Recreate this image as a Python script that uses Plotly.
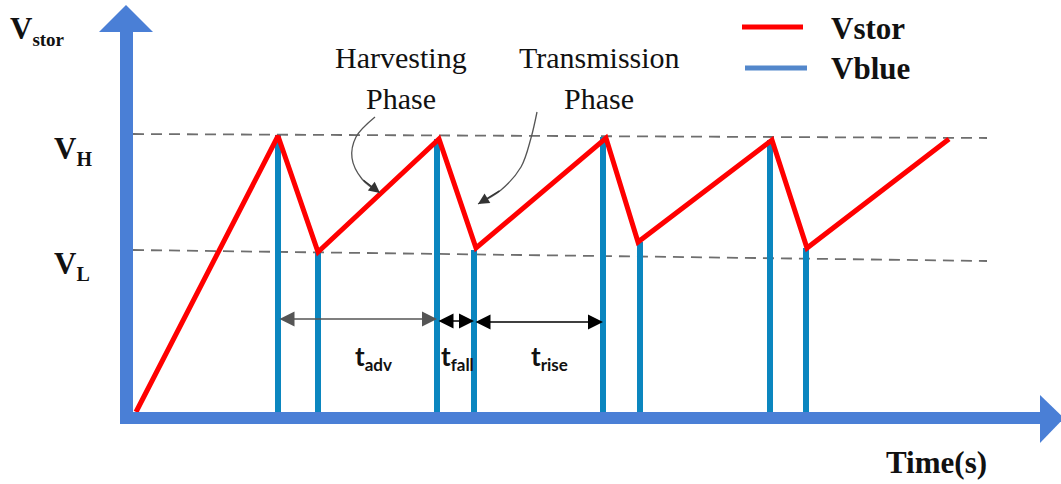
import plotly.graph_objects as go

W, H = 1061, 484
# origin of the drawing (pixel position of t=0, V=0)
OX, OY = 136, 412

# ---------------- data (time units, voltage units) ----------------
vstor_t = [0, 142, 182, 303, 340, 470, 502, 636, 671, 813]
vstor_v = [0, 276, 160, 273, 164, 274, 170, 272, 164, 273]

pulse_t = [142, 182, 301, 338, 467, 504, 634, 670]
pulse_top = [277, 160, 273, 162, 275, 170, 272, 164]

vh_t = [-3, 851]
vh_v = [278, 274]
vl_t = [-3, 851]
vl_v = [162, 151]

interval_labels = ["adv", "fall", "rise"]
interval_edges = [(0, 2), (2, 3), (3, 4)]   # indices into pulse_t
interval_v = [93, 91, 90]

RED = "#FF0000"
PULSE = "#0B86BF"
AXIS = "#4A7FD6"
LEG_BLUE = "#5387CB"
GRAY = "#6E6E6E"

SERIF = "Liberation Serif"
SANS = "Lato"


def P(x, y):
    """pixel -> data coordinates (for decorations)"""
    return x - OX, OY - y


fig = go.Figure()

# dashed reference levels
for tt, vv in ((vh_t, vh_v), (vl_t, vl_v)):
    fig.add_trace(go.Scatter(x=tt, y=vv, mode="lines",
                             line=dict(color=GRAY, width=1.8, dash="11px,7px"),
                             hoverinfo="skip", showlegend=False))

# Vblue pulses
bx, by = [], []
for t, h in zip(pulse_t, pulse_top):
    bx += [t, t, None]
    by += [0, h, None]
fig.add_trace(go.Scatter(x=bx, y=by, mode="lines", name="Vblue",
                         line=dict(color=PULSE, width=6), showlegend=False))

# Vstor
fig.add_trace(go.Scatter(x=vstor_t, y=vstor_v, mode="lines", name="Vstor",
                         line=dict(color=RED, width=5), showlegend=False))

# curved pointer arrows
harv = [P(375, 117), P(356, 137), P(352, 158), P(362, 179), P(380, 193)]
trans = [P(537, 112), P(531, 138), P(521, 167), P(501, 190), P(478, 204)]
for pts in (harv, trans):
    fig.add_trace(go.Scatter(x=[p[0] for p in pts], y=[p[1] for p in pts],
                             mode="lines", line=dict(color="#555555", width=1.3, shape="spline"),
                             hoverinfo="skip", showlegend=False))

shapes = []
# y axis arrow
x0, y0 = P(120, 424)
x1, y1 = P(133, 31)
shapes.append(dict(type="rect", xref="x", yref="y", x0=x0, y0=y0, x1=x1, y1=y1,
                   fillcolor=AXIS, line=dict(width=0)))
a, b, c = P(99, 32), P(153, 32), P(126, 5)
shapes.append(dict(type="path", xref="x", yref="y",
                   path=f"M {a[0]},{a[1]} L {b[0]},{b[1]} L {c[0]},{c[1]} Z",
                   fillcolor=AXIS, line=dict(width=0)))
# x axis arrow
x0, y0 = P(120, 412)
x1, y1 = P(1041, 424)
shapes.append(dict(type="rect", xref="x", yref="y", x0=x0, y0=y0, x1=x1, y1=y1,
                   fillcolor=AXIS, line=dict(width=0)))
a, b, c = P(1040, 395), P(1040, 443), P(1064, 418)
shapes.append(dict(type="path", xref="x", yref="y",
                   path=f"M {a[0]},{a[1]} L {b[0]},{b[1]} L {c[0]},{c[1]} Z",
                   fillcolor=AXIS, line=dict(width=0)))

# legend lines
shapes.append(dict(type="line", xref="x", yref="y", x0=P(742, 27)[0], y0=P(742, 27)[1],
                   x1=P(803, 27)[0], y1=P(803, 27)[1], line=dict(color=RED, width=5)))
shapes.append(dict(type="line", xref="x", yref="y", x0=P(745, 68)[0], y0=P(745, 68)[1],
                   x1=P(807, 68)[0], y1=P(807, 68)[1], line=dict(color=LEG_BLUE, width=5)))

ann = []


def text(px, py, s, size, family=SERIF, xanchor="center", color="#111111"):
    x, y = P(px, py)
    ann.append(dict(x=x, y=y, xref="x", yref="y", text=s, showarrow=False,
                    xanchor=xanchor, yanchor="middle",
                    font=dict(family=family, size=size, color=color)))


text(8, 30, "<b>V<sub><span style='font-size:19px'>stor</span></sub></b>", 31, xanchor="left")
text(52, 150, "<b>V<sub><span style='font-size:20px'>H</span></sub></b>", 31, xanchor="left")
text(52, 265, "<b>V<sub><span style='font-size:20px'>L</span></sub></b>", 31, xanchor="left")
text(401, 57, "Harvesting", 30)
text(401, 98, "Phase", 30)
text(599, 57, "Transmission", 30)
text(599, 98, "Phase", 30)
text(829, 28, "<b>Vstor</b>", 31, xanchor="left")
text(829, 68, "<b>Vblue</b>", 31, xanchor="left")
text(936, 462, "<b>Time(s)</b>", 31)

# arrowheads of the curved pointers
for pts in (harv, trans):
    ann.append(dict(x=pts[-1][0], y=pts[-1][1], ax=pts[-2][0], ay=pts[-2][1],
                    xref="x", yref="y", axref="x", ayref="y", text="",
                    showarrow=True, arrowhead=2, arrowsize=1.7, arrowwidth=1.3,
                    arrowcolor="#333333"))

# interval double arrows + labels
label_px = [373, 457, 549]
for (i0, i1), lab, v, lx in zip(interval_edges, interval_labels, interval_v, label_px):
    ta = pulse_t[i0]
    tb = pulse_t[i1]
    col = "#555555" if lab == "adv" else "#000000"
    ann.append(dict(x=tb, y=v, ax=ta, ay=v, xref="x", yref="y", axref="x", ayref="y",
                    text="", showarrow=True, arrowhead=2, startarrowhead=2,
                    arrowside="end+start", arrowsize=2.0, startarrowsize=2.0,
                    arrowwidth=1.5, arrowcolor=col))
    text(lx, 357, f"<b>t<sub><span style='font-size:17px'>{lab}</span></sub></b>", 26, family=SANS)

fig.update_layout(
    width=W, height=H, margin=dict(l=0, r=0, t=0, b=0),
    paper_bgcolor="white", plot_bgcolor="white",
    xaxis=dict(range=[-OX, W - OX], visible=False, fixedrange=True),
    yaxis=dict(range=[OY - H, OY], visible=False, fixedrange=True),
    shapes=shapes, annotations=ann, showlegend=False,
)
fig.write_html("out.html", config={"displayModeBar": False},
               post_script="document.body.style.margin='0';document.body.style.overflow='hidden';")
